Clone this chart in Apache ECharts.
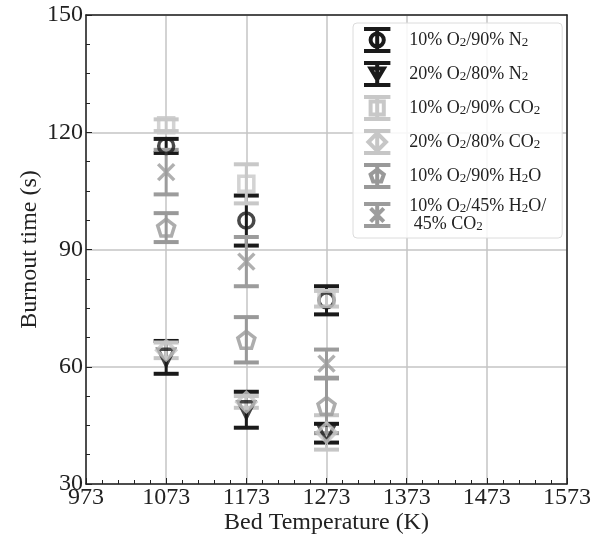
<!DOCTYPE html>
<html><head><meta charset="utf-8">
<script src="https://cdn.jsdelivr.net/npm/echarts@6/dist/echarts.min.js"></script>
<style>html,body{margin:0;padding:0;background:#fff}#c{width:602px;height:539px}</style>
</head><body><div id="c"></div>
<script>
// ---- data ----
const temperatures = [1073, 1173, 1273];
const seriesNames = ['10% O2/90% N2', '20% O2/80% N2', '10% O2/90% CO2', '20% O2/80% CO2', '10% O2/90% H2O', '10% O2/45% H2O/45% CO2'];
const legendLabels = [
  '10% O{s|2}/90% N{s|2}',
  '20% O{s|2}/80% N{s|2}',
  '10% O{s|2}/90% CO{s|2}',
  '20% O{s|2}/80% CO{s|2}',
  '10% O{s|2}/90% H{s|2}O',
  '10% O{s|2}/45% H{s|2}O/\n 45% CO{s|2}'
];
const n2_10_mean  = [116.5, 97.4, 77.0];
const n2_10_err   = [1.8, 6.4, 3.6];
const n2_20_mean  = [62.4, 49.0, 43.0];
const n2_20_err   = [4.2, 4.6, 2.4];
const co2_10_mean = [121.8, 106.8, 77.4];
const co2_10_err  = [1.5, 5.0, 2.0];
const co2_20_mean = [64.2, 51.0, 43.2];
const co2_20_err  = [2.0, 1.5, 4.4];
const h2o_mean    = [95.6, 66.9, 50.0];
const h2o_err     = [3.7, 5.8, 7.0];
const mix_mean    = [109.8, 86.9, 60.8];
const mix_err     = [5.7, 6.3, 3.6];
const xMin = 973, xMax = 1573, xStep = 100;
const yMin = 30, yMax = 150, yStep = 30;

// ---- styles ----
const FONT = '"Liberation Serif", "DejaVu Serif", serif';
const means = [n2_10_mean, n2_20_mean, co2_10_mean, co2_20_mean, h2o_mean, mix_mean];
const errs = [n2_10_err, n2_20_err, co2_10_err, co2_20_err, h2o_err, mix_err];
const colors = ['#1a1a1a', '#1a1a1a', '#c8c8c8', '#c6c6c6', '#999999', '#9c9c9c'];
const symbols = [
  'circle', 'triangle', 'rect', 'diamond',
  'path://M5,0 L9.755,3.455 L7.939,9.045 L2.061,9.045 L0.245,3.455 Z',
  'path://M0,0 L10,10 M10,0 L0,10'
];
const symbolRot = [0, 180, 0, 0, 0, 0];
const symbolSizes = [15, 16, 15, 19, 17, 16];
const bar = 'M2,2 L26,2 M2,22 L26,22 M14,2 L14,22 ';
const legendIcons = [
  bar + 'M14,6 A6,6 0 1 1 14,18 A6,6 0 1 1 14,6 Z',
  bar + 'M8,7 L20,7 L14,17 Z',
  bar + 'M8,6 L20,6 L20,18 L8,18 Z',
  bar + 'M14,4 L22,12 L14,20 L6,12 Z',
  bar + 'M14,6 L20,10.5 L17.7,17 L10.3,17 L8,10.5 Z',
  bar + 'M8,6 L20,18 M20,6 L8,18'
].map(p => 'path://' + p);

const series = [];
for (let i = 0; i < seriesNames.length; i++) {
  const c = colors[i];
  const rows = temperatures.map((t, k) => [t, means[i][k], errs[i][k]]);
  series.push({
    type: 'custom', name: seriesNames[i], xAxisIndex: 0, yAxisIndex: 0,
    itemStyle: { color: c }, silent: true,
    encode: { x: 0, y: 1 },
    data: rows,
    renderItem: function (params, api) {
      const x = api.value(0), y = api.value(1), e = api.value(2);
      const top = api.coord([x, y + e]), bot = api.coord([x, y - e]);
      const hw = 12.5;
      return { type: 'group', children: [
        { type: 'line', shape: { x1: top[0], y1: top[1], x2: bot[0], y2: bot[1] }, style: { stroke: c, lineWidth: 3 } },
        { type: 'line', shape: { x1: top[0] - hw, y1: top[1], x2: top[0] + hw, y2: top[1] }, style: { stroke: c, lineWidth: 4 } },
        { type: 'line', shape: { x1: bot[0] - hw, y1: bot[1], x2: bot[0] + hw, y2: bot[1] }, style: { stroke: c, lineWidth: 4 } }
      ] };
    }
  });
  series.push({
    type: 'scatter', name: seriesNames[i], xAxisIndex: 0, yAxisIndex: 0,
    symbol: symbols[i], symbolRotate: symbolRot[i], symbolSize: symbolSizes[i],
    itemStyle: { color: 'rgba(0,0,0,0)', borderColor: c, borderWidth: 3.5 },
    emphasis: { disabled: true }, silent: true,
    data: rows.map(r => [r[0], r[1]])
  });
}

const chart = echarts.init(document.getElementById('c'), null, { renderer: 'canvas' });
chart.setOption({
  animation: false,
  backgroundColor: '#fff',
  grid: { left: 86, right: 35, top: 15, bottom: 55, outerBoundsMode: 'none', containLabel: false },
  xAxis: [{
    type: 'value', min: xMin, max: xMax, interval: xStep,
    name: 'Bed Temperature (K)', nameLocation: 'middle', nameGap: 27, nameMoveOverlap: false,
    nameTextStyle: { fontFamily: FONT, fontSize: 24, color: '#222', verticalAlign: 'top' },
    axisLine: { show: true, onZero: false, lineStyle: { color: '#222', width: 1.5 } },
    axisTick: { show: true, inside: true, length: 6, lineStyle: { color: '#222' } },
    minorTick: { show: true, splitNumber: 5, length: 4, lineStyle: { color: '#222' } },
    axisLabel: { fontFamily: FONT, fontSize: 24, color: '#222', margin: 2, formatter: v => String(v) },
    splitLine: { show: true, lineStyle: { color: '#c4c4c4', width: 1.5 } }
  }, {
    type: 'value', position: 'top', min: xMin, max: xMax, interval: xStep,
    axisLine: { show: true, onZero: false, lineStyle: { color: '#222', width: 1.5 } },
    axisTick: { show: false }, axisLabel: { show: false }, splitLine: { show: false }
  }],
  yAxis: [{
    type: 'value', min: yMin, max: yMax, interval: yStep,
    name: 'Burnout time (s)', nameLocation: 'middle', nameGap: 44, nameMoveOverlap: false,
    nameTextStyle: { fontFamily: FONT, fontSize: 24, color: '#222' },
    axisLine: { show: true, onZero: false, lineStyle: { color: '#222', width: 1.5 } },
    axisTick: { show: true, inside: true, length: 6, lineStyle: { color: '#222' } },
    minorTick: { show: true, splitNumber: 4, length: 4, lineStyle: { color: '#222' } },
    axisLabel: { fontFamily: FONT, fontSize: 24, color: '#222', margin: 3, formatter: v => String(v) },
    splitLine: { show: true, lineStyle: { color: '#c4c4c4', width: 1.5 } }
  }, {
    type: 'value', position: 'right', min: yMin, max: yMax, interval: yStep,
    axisLine: { show: true, onZero: false, lineStyle: { color: '#222', width: 1.5 } },
    axisTick: { show: false }, axisLabel: { show: false }, splitLine: { show: false }
  }],
  legend: {
    left: 353, top: 23, orient: 'vertical',
    padding: [4, 16, 5, 9],
    itemWidth: 28, itemHeight: 22, itemGap: 8,
    backgroundColor: 'rgba(255,255,255,0.85)', borderColor: '#dcdcdc', borderWidth: 1, borderRadius: 4,
    selectedMode: false,
    data: seriesNames.map((n, i) => ({
      name: n, icon: legendIcons[i],
      itemStyle: { color: 'rgba(0,0,0,0)', borderColor: colors[i], borderWidth: 4 }
    })),
    formatter: function (name) { return legendLabels[seriesNames.indexOf(name)]; },
    textStyle: {
      fontFamily: FONT, fontSize: 18, color: '#222', lineHeight: 18, padding: [0, 0, 0, 13],
      rich: { s: { fontFamily: FONT, fontSize: 13, verticalAlign: 'bottom', lineHeight: 13, padding: [5, 0, 0, 0] } }
    }
  },
  series: series
});
</script></body></html>
